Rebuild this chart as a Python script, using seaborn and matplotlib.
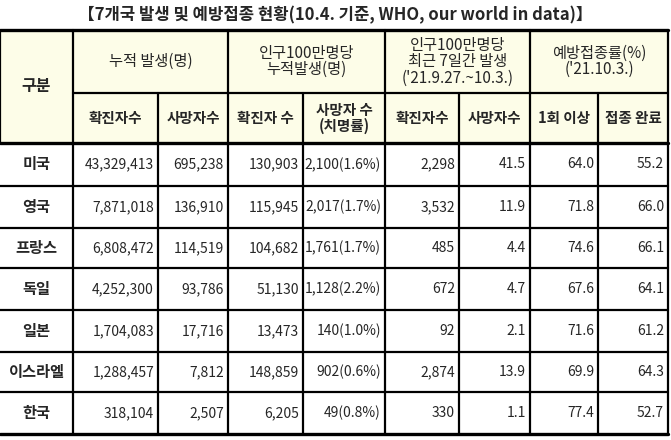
import matplotlib
matplotlib.use("Agg")
import matplotlib.pyplot as plt
import seaborn as sns
import pandas as pd

sns.set_style("white")
plt.rcParams['font.family'] = ['Noto Sans CJK KR', 'DejaVu Sans']

title = "【7개국 발생 및 예방접종 현황(10.4. 기준, WHO, our world in data)】"
countries = ["미국", "영국", "프랑스", "독일", "일본", "이스라엘", "한국"]
cum_cases = ["43,329,413", "7,871,018", "6,808,472", "4,252,300", "1,704,083", "1,288,457", "318,104"]
cum_deaths = ["695,238", "136,910", "114,519", "93,786", "17,716", "7,812", "2,507"]
pm_cases = ["130,903", "115,945", "104,682", "51,130", "13,473", "148,859", "6,205"]
pm_deaths = ["2,100(1.6%)", "2,017(1.7%)", "1,761(1.7%)", "1,128(2.2%)", "140(1.0%)", "902(0.6%)", "49(0.8%)"]
wk_cases = ["2,298", "3,532", "485", "672", "92", "2,874", "330"]
wk_deaths = ["41.5", "11.9", "4.4", "4.7", "2.1", "13.9", "1.1"]
vacc_one = ["64.0", "71.8", "74.6", "67.6", "71.6", "69.9", "77.4"]
vacc_full = ["55.2", "66.0", "66.1", "64.1", "61.2", "64.3", "52.7"]

group_headers = ["누적 발생(명)", "인구100만명당\n누적발생(명)",
                 "인구100만명당\n최근 7일간 발생\n('21.9.27.~10.3.)", "예방접종률(%)\n('21.10.3.)"]
sub_headers = ["확진자수", "사망자수", "확진자 수", "사망자 수\n(치명률)", "확진자수", "사망자수", "1회 이상", "접종 완료"]

df = pd.DataFrame({"c0": cum_cases, "c1": cum_deaths, "c2": pm_cases, "c3": pm_deaths,
                   "c4": wk_cases, "c5": wk_deaths, "c6": vacc_one, "c7": vacc_full}, index=countries)

W, H = 671, 440
fig = plt.figure(figsize=(W / 100, H / 100), dpi=100)
ax = fig.add_axes([0, 0, 1, 1])
ax.set_xlim(0, W)
ax.set_ylim(H, 0)
ax.axis("off")

xs = [0, 73, 158, 228, 303, 385, 459, 530, 598, 668]
ys = [30, 93, 143, 186, 228, 268, 310, 352, 392, 434]
fill = "#FDFDE8"

ax.text(W / 2, 15, title, ha="center", va="center", fontsize=12, fontweight="bold")
ax.add_patch(plt.Rectangle((xs[0], ys[0]), xs[-1] - xs[0], ys[2] - ys[0], color=fill, zorder=0))

lw = 1.6
for i, y in enumerate(ys):
    if i == 1:
        ax.plot([xs[1], xs[-1]], [y, y], color="black", lw=lw)
    else:
        ax.plot([xs[0], xs[-1]], [y, y], color="black",
                lw=2.4 if i in (0, 2, len(ys) - 1) else lw)
for j, x in enumerate(xs):
    if j in (0, len(xs) - 1):
        ax.plot([x, x], [ys[0], ys[2] if j == 0 else ys[-1]], color="black", lw=lw)
    elif j in (2, 4, 6, 8):
        ax.plot([x, x], [ys[1], ys[-1]], color="black", lw=lw)
    else:
        ax.plot([x, x], [ys[0], ys[-1]], color="black", lw=lw)

fs = 10.5
ax.text((xs[0] + xs[1]) / 2, (ys[0] + ys[2]) / 2, "구분", ha="center", va="center", fontsize=11.5, fontweight="bold")
for k, g in enumerate(group_headers):
    x0, x1 = xs[1 + 2 * k], xs[3 + 2 * k]
    ax.text((x0 + x1) / 2, (ys[0] + ys[1]) / 2, g, ha="center", va="center", fontsize=11, linespacing=0.95)
for k, s in enumerate(sub_headers):
    ax.text((xs[1 + k] + xs[2 + k]) / 2, (ys[1] + ys[2]) / 2, s, ha="center", va="center",
            fontsize=fs, fontweight="bold", linespacing=0.95)

for r, c in enumerate(df.index):
    yc = (ys[2 + r] + ys[3 + r]) / 2
    ax.text((xs[0] + xs[1]) / 2, yc, c, ha="center", va="center", fontsize=11, fontweight="bold")
    for k, col in enumerate(df.columns):
        ax.text(xs[2 + k] - 4, yc, df.loc[c, col], ha="right", va="center", fontsize=10)

fig.savefig("out.png", dpi=100)
